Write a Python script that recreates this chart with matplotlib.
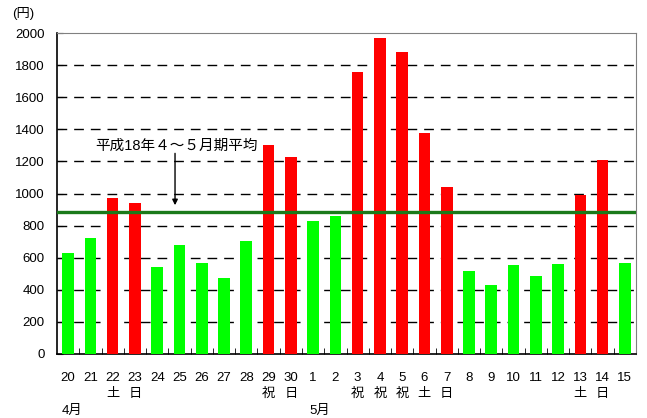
import numpy as np
import matplotlib
matplotlib.use('Agg')
import matplotlib.pyplot as plt
from matplotlib.transforms import blended_transform_factory

plt.rcParams['font.family'] = ['Liberation Sans', 'Noto Sans CJK JP', 'DejaVu Sans']

## data (yen per day, Apr 20 - May 15)
days = ['20', '21', '22', '23', '24', '25', '26', '27', '28', '29', '30',
        '1', '2', '3', '4', '5', '6', '7', '8', '9', '10', '11', '12', '13', '14', '15']
day_notes = ['', '', '土', '日', '', '', '', '', '', '祝', '日',
             '', '', '祝', '祝', '祝', '土', '日', '', '', '', '', '', '土', '日', '']
values = [629, 722, 971, 940, 542, 679, 567, 474, 704, 1305, 1225,
          828, 859, 1760, 1971, 1884, 1375, 1040, 518, 431, 555, 487, 561, 990, 1207, 567]
holiday = [0, 0, 1, 1, 0, 0, 0, 0, 0, 1, 1,
           0, 0, 1, 1, 1, 1, 1, 0, 0, 0, 0, 0, 1, 1, 0]
average = 887
avg_label = '平成18年４～５月期平均'
months = ['4月', '5月']
month_start = [0, 11]

yticks = np.arange(0, 2001, 200)

fig = plt.figure(figsize=(6.47, 4.18), dpi=100)
ax = fig.add_axes([57/647, 1-354/418, 579/647, 321/418])

x = np.arange(len(days))
colors = ['#ff0000' if h else '#00ff00' for h in holiday]
ax.bar(x, values, width=0.52, color=colors, zorder=3)

# dashed grid lines
for yv in yticks[1:-1]:
    ax.axhline(yv, color='black', lw=1.0, ls=(0, (7, 5)), zorder=1)

ax.axhline(average, color='#1a7a1a', lw=2.4, zorder=4)

ax.set_xlim(-0.5, len(days) - 0.5)
ax.set_ylim(0, 2000)
ax.set_yticks(yticks)
ax.tick_params(axis='y', direction='in', length=4, pad=9, labelsize=9.5)

labels = [d + ('\n' + n if n else '') for d, n in zip(days, day_notes)]
ax.set_xticks(x)
ax.set_xticklabels(labels, fontsize=9.5, linespacing=1.45)
ax.tick_params(axis='x', length=0, pad=13)
ax.set_xticks(np.arange(0.5, len(days) - 1, 1.0), minor=True)
ax.tick_params(axis='x', which='minor', direction='in', length=4, color='black')

for s in ['top', 'right']:
    ax.spines[s].set_color('#808080')
for s in ['left', 'bottom']:
    ax.spines[s].set_color('black')
    ax.spines[s].set_linewidth(1.2)

trans = blended_transform_factory(ax.transData, ax.transAxes)
month_off = [-0.29, -0.18]
for m, i, o in zip(months, month_start, month_off):
    ax.text(i + o, -0.177, m, transform=trans, ha='left', va='center', fontsize=9.5)

ax.annotate('', xy=(4.8, 927), xytext=(4.8, 1250),
            arrowprops=dict(arrowstyle='-|>', color='black', lw=1.0,
                            mutation_scale=8, shrinkA=0, shrinkB=0), zorder=5)
ax.text(4.85, 1300, avg_label, ha='center', va='center', fontsize=10.5, zorder=5)

fig.text(23/647, 1-14/418, '(円)', ha='center', va='center', fontsize=9.5)

fig.savefig('out.png', dpi=100)
